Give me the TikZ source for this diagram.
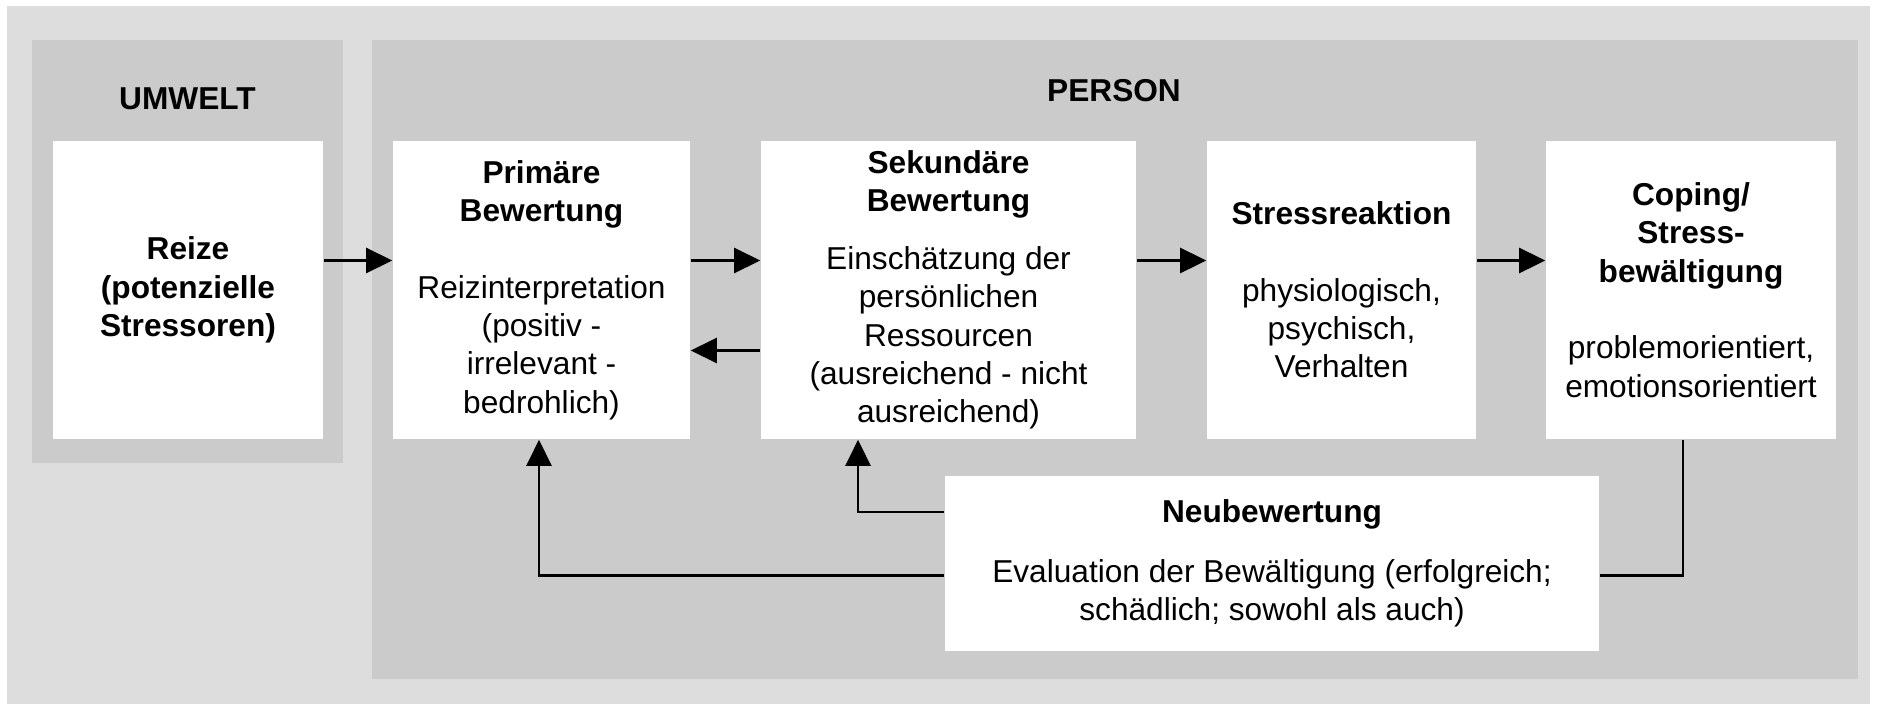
\documentclass[tikz,border=0pt]{standalone}
\usepackage{fontspec}
\setmainfont{Liberation Sans}
\usepackage{tikz}
\usetikzlibrary{calc,arrows.meta}
\definecolor{hell}{HTML}{DDDDDD}
\definecolor{mittel}{HTML}{CBCBCB}

\begin{document}
\begin{tikzpicture}[x=0.01cm, y=-0.01cm, % 1px = 0.01cm、y軸は下向き
  kasten/.style={fill=white, align=center, inner sep=0pt, minimum height=2.98cm, font=\fontsize{9}{10.9}\selectfont}, % 白い箱
  titel/.style={font=\bfseries\fontsize{9}{10.9}\selectfont}, % 見出し
  pfeil/.style={line width=0.7pt, -{Triangle[length=0.26cm, width=0.25cm]}}] % 矢印
  \useasboundingbox (0,0) rectangle (1877,709); % 全体の大きさ
  \fill[hell] (7,6) rectangle (1870,704); % 背景
  \fill[mittel] (32,40) rectangle (343,463); % 左の領域
  \fill[mittel] (372,40) rectangle (1858,679); % 右の領域
  \node[titel] (umwelt) at (187.5,98.6) {UMWELT};
  \node[titel] (person) at (1114,90.5) {PERSON};

  \node[kasten, minimum width=2.70cm, font=\bfseries\fontsize{9}{10.9}\selectfont] (reize) at (188,290) {Reize\\(potenzielle\\Stressoren)};
  \node[kasten, minimum width=2.97cm] (prim) at (541.5,290) {\textbf{Primäre}\\\textbf{Bewertung}\\[10.9pt]Reizinterpretation\\(positiv -\\irrelevant -\\bedrohlich)};
  \node[kasten, minimum width=3.75cm] (sek) at (948.5,290) {\textbf{Sekundäre}\\\textbf{Bewertung}\\[5.5pt]Einschätzung der\\persönlichen\\Ressourcen\\(ausreichend - nicht\\ausreichend)};
  \node[kasten, minimum width=2.69cm] (stress) at (1341.5,290) {\textbf{Stressreaktion}\\[10.9pt]physiologisch,\\psychisch,\\Verhalten};
  \node[kasten, minimum width=2.90cm] (cop) at (1691,290) {\textbf{Coping/}\\\textbf{Stress-}\\\textbf{bewältigung}\\[10.9pt]problemorientiert,\\emotionsorientiert};
  \node[kasten, minimum width=6.54cm, minimum height=1.75cm] (neu) at (1272,563.5) {\textbf{Neubewertung}\\[6pt]Evaluation der Bewältigung (erfolgreich;\\schädlich; sowohl als auch)};

  \draw[pfeil] ($(reize.east)+(0,-29.5)$) -- ($(prim.west)+(0,-29.5)$); % 左から右へ
  \draw[pfeil] ($(prim.east)+(0,-29.5)$) -- ($(sek.west)+(0,-29.5)$);
  \draw[pfeil] ($(sek.west)+(0,60.5)$) -- ($(prim.east)+(0,60.5)$); % 戻り
  \draw[pfeil] ($(sek.east)+(0,-29.5)$) -- ($(stress.west)+(0,-29.5)$);
  \draw[pfeil] ($(stress.east)+(0,-29.5)$) -- ($(cop.west)+(0,-29.5)$);
  \draw[pfeil] ($(neu.west)+(0,-51.5)$) -| ($(sek.south)+(-90.5,0)$); % 下からの帰還
  \draw[pfeil] ($(neu.west)+(0,12)$) -| ($(prim.south)+(-2.5,0)$);
  \draw[line width=0.7pt] ($(cop.south)+(-8,0)$) |- ($(neu.east)+(0,12)$); % 矢じりなし
\end{tikzpicture}
\end{document}
